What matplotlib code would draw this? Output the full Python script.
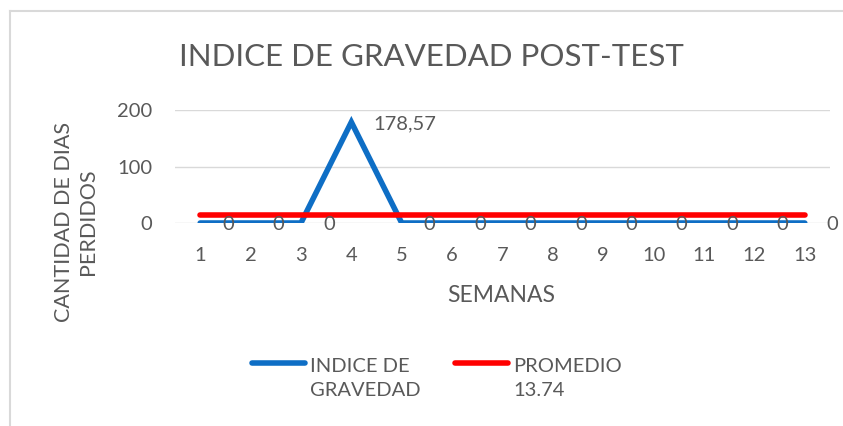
import numpy as np
import matplotlib.pyplot as plt
from matplotlib.lines import Line2D

plt.rcParams['font.family'] = ['Lato', 'DejaVu Sans']

# Data
semanas = list(range(1, 14))
indice_gravedad = [0, 0, 0, 178.57, 0, 0, 0, 0, 0, 0, 0, 0, 0]
promedio = 13.74
etiquetas = ['0', '0', '0', '178,57', '0', '0', '0', '0', '0', '0', '0', '0', '0']
series_nombres = ['INDICE DE\nGRAVEDAD', 'PROMEDIO\n13.74']

GRAY = '#595959'
BLUE = '#0E6EC5'
RED = '#FF0000'
LW = 4.0

W, H = 843, 426
fig = plt.figure(figsize=(W / 100, H / 100), dpi=100)

# Outer chart border (left and top)
fig.add_artist(Line2D([9.5 / W, 9.5 / W], [0, 1 - 11 / H], color='#D9D9D9', lw=1.5))
fig.add_artist(Line2D([9.5 / W, 1], [1 - 11 / H, 1 - 11 / H], color='#D9D9D9', lw=1.5))

# Plot area
ax = fig.add_axes([175 / W, 1 - 223 / H, 655 / W, 113 / H])
ax.plot(semanas, indice_gravedad, color=BLUE, lw=LW, solid_capstyle='round',
        solid_joinstyle='miter', zorder=3)
ax.plot(semanas, [promedio] * len(semanas), color=RED, lw=LW,
        solid_capstyle='round', zorder=4)

# Data labels
for x, y, t in zip(semanas, indice_gravedad, etiquetas):
    ax.annotate(t, (x, y), xytext=(22, -2), textcoords='offset pixels',
                ha='left', va='center', fontsize=14.5, color=GRAY, zorder=5,
                annotation_clip=False)

ax.set_xlim(0.5, 13.5)
ax.set_ylim(0, 200)
ax.set_yticks([0, 100, 200])
ax.set_xticks(semanas)
ax.grid(axis='y', color='#D9D9D9', lw=1)
ax.set_axisbelow(True)
for s in ax.spines.values():
    s.set_visible(False)
ax.tick_params(length=0, labelsize=14.5, colors=GRAY)
ax.tick_params(axis='y', pad=16.5)
ax.tick_params(axis='x', pad=17.5)

# Title and axis titles
fig.text(431 / W, 1 - 57 / H, 'INDICE DE GRAVEDAD POST-TEST', ha='center',
         va='center', fontsize=22.5, color=GRAY)
fig.text(501 / W, 1 - 296 / H, 'SEMANAS', ha='center', va='center',
         fontsize=16.5, color=GRAY)
fig.text(76 / W, 1 - 222 / H, 'CANTIDAD DE DIAS\nPERDIDOS', ha='center',
         va='center', rotation=90, multialignment='center', fontsize=15.5,
         color=GRAY, linespacing=1.25)

# Legend (drawn by hand so the key sits next to the first text line)
for nombre, color, x0 in zip(series_nombres, [BLUE, RED], [252, 455]):
    fig.add_artist(Line2D([x0 / W, (x0 + 53) / W], [1 - 363 / H] * 2,
                          color=color, lw=LW, solid_capstyle='round'))
    fig.text((x0 + 58) / W, 1 - 378 / H, nombre, ha='left', va='center',
             fontsize=14.5, color=GRAY, linespacing=1.5)

fig.savefig('out.png', dpi=100)
